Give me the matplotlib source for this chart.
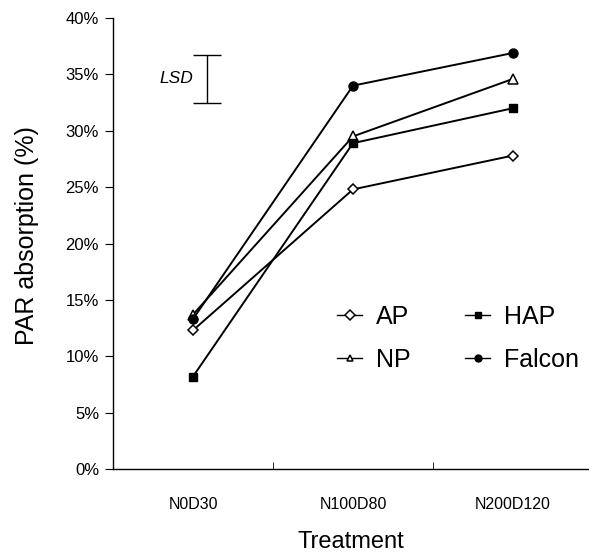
import matplotlib
matplotlib.use("Agg")
import matplotlib.pyplot as plt
from matplotlib.ticker import FuncFormatter, FixedLocator

plt.rcParams['font.family'] = ['Liberation Sans', 'DejaVu Sans']

categories = ["N0D30", "N100D80", "N200D120"]
ap = [12.3, 24.8, 27.8]
np_ = [13.7, 29.5, 34.6]
hap = [8.2, 28.9, 32.0]
falcon = [13.3, 34.0, 36.9]
lsd_low, lsd_high = 32.5, 36.7

W, H = 589, 552
fig = plt.figure(figsize=(W / 100, H / 100), dpi=100)
left, right, bottom, top = 113, 589, 469, 18
ax = fig.add_axes([left / W, 1 - bottom / H, (right - left) / W, (bottom - top) / H])

x = list(range(len(categories)))
lw = 1.4
ax.plot(x, ap, color='black', lw=lw, marker='D', ms=5, mfc='white', mec='black', mew=1.1, label='AP')
ax.plot(x, np_, color='black', lw=lw, marker='^', ms=7, mfc='white', mec='black', mew=1.1, label='NP')
ax.plot(x, hap, color='black', lw=lw, marker='s', ms=6, mfc='black', mec='black', label='HAP')
ax.plot(x, falcon, color='black', lw=lw, marker='o', ms=6.5, mfc='black', mec='black', label='Falcon')

ax.set_xlim(-0.5, (right - left) / 160 - 0.5)
ax.set_ylim(0, 40)

# LSD bar
ax.errorbar([0.0875], [(lsd_low + lsd_high) / 2], yerr=[[(lsd_high - lsd_low) / 2]],
            fmt='none', ecolor='black', elinewidth=1.0, capsize=10, capthick=1.0)
ax.text(0.0, (lsd_low + lsd_high) / 2, "LSD", style='italic', fontsize=12.5,
        ha='right', va='center')

ax.spines['top'].set_visible(False)
ax.spines['right'].set_visible(False)
ax.spines['left'].set_linewidth(1.0)
ax.spines['bottom'].set_linewidth(1.0)

ax.set_yticks(range(0, 41, 5))
ax.yaxis.set_major_formatter(FuncFormatter(lambda v, p: f"{int(v)}%"))
ax.tick_params(axis='y', direction='out', length=6, labelsize=12, pad=4)

ax.set_xticks(x)
ax.set_xticklabels(categories, fontsize=11.5)
ax.tick_params(axis='x', which='major', length=0, pad=20)
ax.xaxis.set_minor_locator(FixedLocator([0.5, 1.5]))
ax.tick_params(axis='x', which='minor', direction='in', length=5)

ax.set_ylabel("PAR absorption (%)", fontsize=18, labelpad=12)
ax.yaxis.set_label_coords(-0.155, 0.517)
ax.set_xlabel("Treatment", fontsize=17, labelpad=14)

leg = ax.legend(ncol=2, frameon=False, fontsize=18, loc='upper left',
                bbox_to_anchor=((337 - left) / (right - left), 1 - (305 - top) / (bottom - top)),
                handlelength=1.0, handletextpad=0.55, columnspacing=2.2, labelspacing=0.75,
                borderaxespad=0, borderpad=0)
for h in leg.legend_handles:
    h.set_markersize(5)
    h.set_linewidth(1.0)

fig.savefig("out.png", dpi=100)
